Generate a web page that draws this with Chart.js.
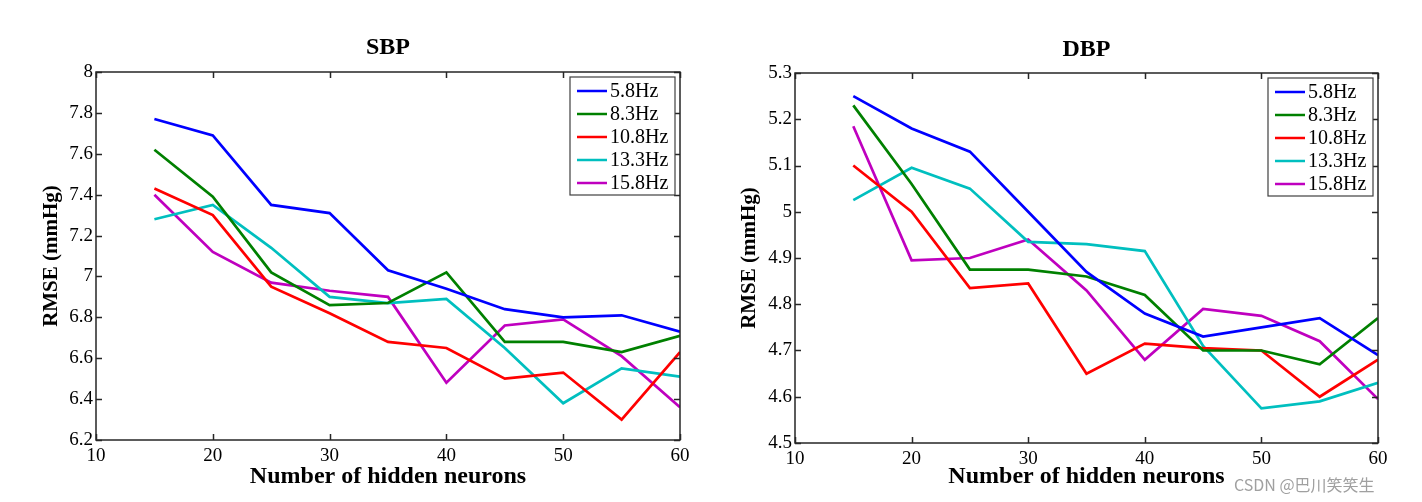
<!DOCTYPE html>
<html lang="en">
<head>
    <meta charset="UTF-8">
    <title>SBP / DBP RMSE vs hidden neurons</title>
    <script src="https://cdn.jsdelivr.net/npm/chart.js"></script>
    <style>
        body {
            margin: 0;
            background: #ffffff;
            width: 1422px;
            height: 502px;
            position: relative;
            overflow: hidden;
        }
        .panel {
            position: absolute;
            top: 0;
            width: 711px;
            height: 502px;
        }
        #left { left: 0; }
        #right { left: 711px; }
        .watermark {
            position: absolute;
            left: 1234px;
            top: 472px;
            font-family: "Noto Sans CJK SC", "Noto Sans", sans-serif;
            font-size: 16px;
            color: #a0a0a0;
        }
    </style>
</head>
<body>
    <div class="panel" id="left"><canvas id="sbpChart" width="711" height="502"></canvas></div>
    <div class="panel" id="right"><canvas id="dbpChart" width="711" height="502"></canvas></div>
    <div class="watermark">CSDN @巴川笑笑生</div>

    <script>
        // hidden neuron counts (x axis)
        const neurons = [15, 20, 25, 30, 35, 40, 45, 50, 55, 60];
        const freqLabels = ['5.8Hz', '8.3Hz', '10.8Hz', '13.3Hz', '15.8Hz'];
        const lineColors = ['#0000ff', '#008000', '#ff0000', '#00bfbf', '#bf00bf'];

        // SBP RMSE
        const sbp58  = [7.77, 7.69, 7.35, 7.31, 7.03, 6.94, 6.84, 6.80, 6.81, 6.73];
        const sbp83  = [7.62, 7.39, 7.02, 6.86, 6.87, 7.02, 6.68, 6.68, 6.63, 6.71];
        const sbp108 = [7.43, 7.30, 6.95, 6.82, 6.68, 6.65, 6.50, 6.53, 6.30, 6.63];
        const sbp133 = [7.28, 7.35, 7.14, 6.90, 6.87, 6.89, 6.65, 6.38, 6.55, 6.51];
        const sbp158 = [7.40, 7.12, 6.97, 6.93, 6.90, 6.48, 6.76, 6.79, 6.61, 6.36];

        // DBP RMSE
        const dbp58  = [5.25, 5.18, 5.13, 5.00, 4.87, 4.78, 4.73, 4.75, 4.77, 4.69];
        const dbp83  = [5.23, 5.06, 4.875, 4.875, 4.86, 4.82, 4.70, 4.70, 4.67, 4.77];
        const dbp108 = [5.10, 5.00, 4.835, 4.845, 4.65, 4.715, 4.705, 4.70, 4.60, 4.68];
        const dbp133 = [5.025, 5.095, 5.05, 4.935, 4.93, 4.915, 4.71, 4.575, 4.59, 4.63];
        const dbp158 = [5.185, 4.895, 4.90, 4.94, 4.83, 4.68, 4.79, 4.775, 4.72, 4.595];

        const serif = '"Liberation Serif", "DejaVu Serif", serif';

        // MATLAB-style box with inward ticks on all sides
        const boxTicks = {
            id: 'boxTicks',
            afterDraw(chart) {
                const { ctx, chartArea: a, scales: { x, y } } = chart;
                ctx.save();
                ctx.strokeStyle = '#262626';
                ctx.lineWidth = 1.5;
                ctx.strokeRect(a.left, a.top, a.width, a.height);
                ctx.beginPath();
                x.ticks.forEach(t => {
                    const px = Math.round(x.getPixelForValue(t.value)) + 0.5;
                    ctx.moveTo(px, a.bottom); ctx.lineTo(px, a.bottom - 6);
                    ctx.moveTo(px, a.top); ctx.lineTo(px, a.top + 6);
                });
                y.ticks.forEach(t => {
                    const py = Math.round(y.getPixelForValue(t.value)) + 0.5;
                    ctx.moveTo(a.left, py); ctx.lineTo(a.left + 6, py);
                    ctx.moveTo(a.right, py); ctx.lineTo(a.right - 6, py);
                });
                ctx.stroke();
                ctx.restore();
            }
        };

        // legend boxed inside the top-right corner of the plot
        const boxLegend = {
            id: 'boxLegend',
            afterDraw(chart) {
                const { ctx, chartArea: a } = chart;
                const w = 105, h = 118, rowH = 23;
                const x0 = a.right - 5 - w, y0 = a.top + 5;
                ctx.save();
                ctx.fillStyle = '#ffffff';
                ctx.fillRect(x0, y0, w, h);
                ctx.strokeStyle = '#404040';
                ctx.lineWidth = 1.2;
                ctx.strokeRect(x0, y0, w, h);
                ctx.font = '20px ' + serif;
                ctx.textBaseline = 'middle';
                chart.data.datasets.forEach((ds, i) => {
                    const cy = y0 + 14 + i * rowH;
                    ctx.strokeStyle = ds.borderColor;
                    ctx.lineWidth = 2.5;
                    ctx.beginPath();
                    ctx.moveTo(x0 + 7, cy); ctx.lineTo(x0 + 37, cy);
                    ctx.stroke();
                    ctx.fillStyle = '#000';
                    ctx.fillText(ds.label, x0 + 40, cy + 1);
                });
                ctx.restore();
            }
        };

        function makeChart(id, title, series, yMin, yMax, cfg) {
            const datasets = series.map((vals, i) => ({
                label: freqLabels[i],
                data: vals.map((v, j) => ({ x: neurons[j], y: v })),
                borderColor: lineColors[i],
                backgroundColor: lineColors[i],
                borderWidth: 2.7,
                pointRadius: 0,
                tension: 0,
                fill: false
            }));
            return new Chart(document.getElementById(id), {
                type: 'line',
                data: { datasets: datasets },
                plugins: [boxTicks, boxLegend],
                options: {
                    responsive: false,
                    animation: false,
                    layout: { padding: { left: 0, right: cfg.right, top: 0, bottom: 0 } },
                    scales: {
                        x: {
                            type: 'linear',
                            min: 10, max: 60,
                            grid: { display: false, drawTicks: false },
                            border: { display: false },
                            ticks: { stepSize: 10, color: '#000', padding: 5, font: { family: serif, size: 19 } },
                            title: {
                                display: true,
                                text: 'Number of hidden neurons',
                                color: '#000',
                                font: { family: serif, size: 24, weight: 'bold' },
                                padding: { top: 0, bottom: cfg.xTitleBottom }
                            },
                            afterFit(scale) { scale.height = cfg.bottom; }
                        },
                        y: {
                            min: yMin, max: yMax,
                            grid: { display: false, drawTicks: false },
                            border: { display: false },
                            ticks: {
                                stepSize: cfg.step, color: '#000', padding: 3,
                                font: { family: serif, size: 19 },
                                callback: v => String(+v.toFixed(2))
                            },
                            title: {
                                display: true,
                                text: 'RMSE (mmHg)',
                                color: '#000',
                                font: { family: serif, size: 21, weight: 'bold' },
                                padding: { top: cfg.yTitleTop, bottom: 0 }
                            },
                            afterFit(scale) { scale.width = cfg.left; }
                        }
                    },
                    plugins: {
                        legend: { display: false },
                        tooltip: { enabled: false },
                        title: {
                            display: true,
                            text: title,
                            fullSize: false,
                            color: '#000',
                            font: { family: serif, size: 24, weight: 'bold' },
                            padding: { top: cfg.titleTop, bottom: cfg.titleBottom }
                        }
                    }
                }
            });
        }

        makeChart('sbpChart', 'SBP', [sbp58, sbp83, sbp108, sbp133, sbp158], 6.2, 8, {
            step: 0.2, left: 96, right: 31, bottom: 62,
            titleTop: 33.6, titleBottom: 9.6, yTitleTop: 39.4, xTitleBottom: 10.6
        });
        makeChart('dbpChart', 'DBP', [dbp58, dbp83, dbp108, dbp133, dbp158], 4.5, 5.3, {
            step: 0.1, left: 84, right: 44, bottom: 59,
            titleTop: 35.6, titleBottom: 8.6, yTitleTop: 26.4, xTitleBottom: 10.6
        });
    </script>
</body>
</html>
